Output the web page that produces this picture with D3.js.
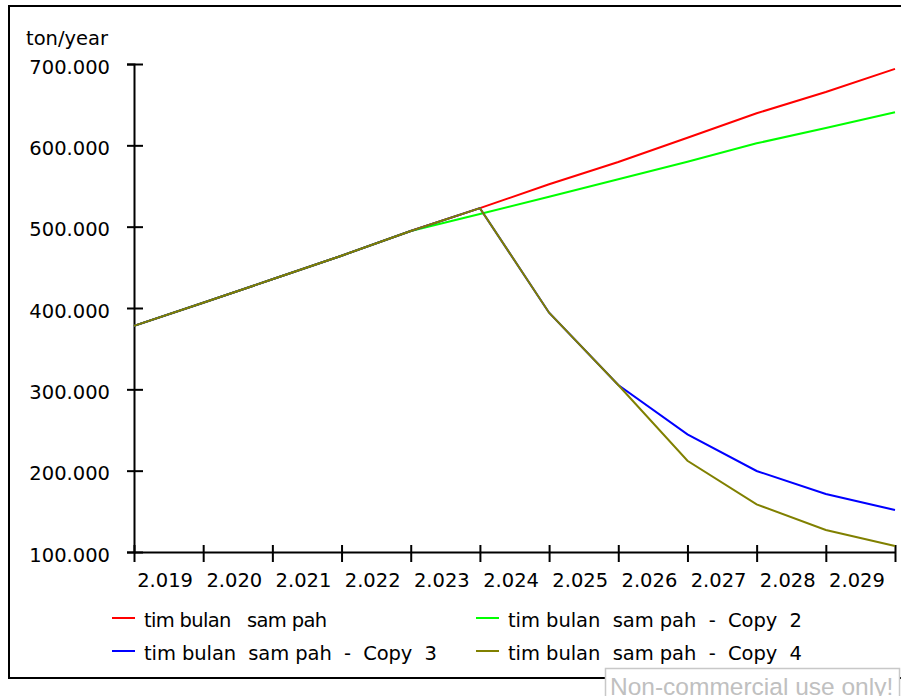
<!DOCTYPE html>
<html>
<head>
<meta charset="utf-8">
<script src="https://cdn.jsdelivr.net/npm/d3@7"></script>
<style>
  body { margin: 0; background: #fff; }
  svg { display: block; }
  text { font-family: "DejaVu Sans", Verdana, sans-serif; fill: #000; }
  .legend text { white-space: pre; }
</style>
</head>
<body>
<svg id="svg1" width="901" height="696"></svg>
<script>
// values (ton/year)
var years = [2019, 2020, 2021, 2022, 2023, 2024, 2025, 2026, 2027, 2028, 2029, 2030];
var timbulan = [378000, 406500, 435300, 464300, 494700, 522800, 552100, 579500, 609400, 639400, 665600, 694000];
var copy2 = [378000, 406500, 435300, 464300, 494700, 515600, 536900, 558200, 579900, 602500, 621300, 640600];
var copy3 = [378000, 406500, 435300, 464300, 494700, 522800, 394200, 305300, 244700, 199600, 171300, 151600];
var copy4 = [378000, 406500, 435300, 464300, 494700, 522800, 394200, 305300, 212200, 158600, 127000, 107400];

var yTicks = [100000, 200000, 300000, 400000, 500000, 600000, 700000];
var xLabelYears = [2019, 2020, 2021, 2022, 2023, 2024, 2025, 2026, 2027, 2028, 2029];

var seriesNames = ['tim bulan   sam pah', 'tim bulan  sam pah  -  Copy  2', 'tim bulan  sam pah  -  Copy  3', 'tim bulan  sam pah  -  Copy  4'];
var seriesColors = ['#ff0000', '#00ff00', '#0000ff', '#808000'];
var seriesValues = [timbulan, copy2, copy3, copy4];

var svg = d3.select('svg');

// frame round the whole chart
svg.append('rect')
    .attr('x', 9).attr('y', 6)
    .attr('width', 900).attr('height', 672)
    .attr('fill', 'none')
    .attr('stroke', '#000')
    .attr('stroke-width', 2);

var x = d3.scaleLinear().domain([2019, 2030]).range([134, 895]);
var y = d3.scaleLinear().domain([100000, 700000]).range([552, 64]);

var locale = d3.formatLocale({decimal: ',', thousands: '.', grouping: [3], currency: ['', '']});
var fmt = locale.format(',.0f');

// y axis
var yAxis = svg.append('g')
    .attr('transform', 'translate(' + x(2019) + ',0)')
    .call(d3.axisLeft(y).tickValues(yTicks).tickSizeOuter(0).tickSize(7).tickFormat(fmt));
yAxis.select('.domain').attr('stroke-width', 2);
yAxis.selectAll('.tick line').attr('x1', 9).attr('x2', -7).attr('stroke-width', 2);
yAxis.selectAll('.tick text')
    .attr('x', -24).attr('dy', 9)
    .style('font-size', '19.5px');

// x axis, the labels sit between the ticks
var xAxis = svg.append('g')
    .attr('transform', 'translate(0,' + y(100000) + ')')
    .call(d3.axisBottom(x).tickValues(years).tickSizeOuter(0).tickFormat(''));
xAxis.select('.domain').attr('stroke-width', 2);
xAxis.selectAll('.tick line').attr('y1', -7).attr('y2', 10).attr('stroke-width', 2);

svg.append('g').selectAll('text')
    .data(xLabelYears)
    .enter()
    .append('text')
    .attr('x', function (d) { return x(d + 0.45); })
    .attr('y', 586.5)
    .attr('text-anchor', 'middle')
    .style('font-size', '19.5px')
    .text(function (d) { return fmt(d); });

svg.append('text')
    .attr('x', 26).attr('y', 45)
    .style('font-size', '19.5px')
    .text('ton/year');

// lines
var line = d3.line()
    .x(function (d, i) { return x(years[i]); })
    .y(function (d) { return y(d); });

svg.append('g').selectAll('path')
    .data(seriesValues)
    .enter()
    .append('path')
    .attr('d', line)
    .attr('fill', 'none')
    .attr('stroke', function (d, i) { return seriesColors[i]; })
    .attr('stroke-width', 2);

// legend
var legX = [112, 476];
var legY = [618, 651];
var legLen = [183, 294, 293, 294];
var leg = svg.append('g').attr('class', 'legend')
    .selectAll('g')
    .data(seriesNames)
    .enter()
    .append('g')
    .attr('transform', function (d, i) { return 'translate(' + legX[i % 2] + ',' + legY[Math.floor(i / 2)] + ')'; });
leg.append('line')
    .attr('x1', 0).attr('x2', 23)
    .attr('stroke', function (d, i) { return seriesColors[i]; })
    .attr('stroke-width', 2);
leg.append('text')
    .attr('x', 32).attr('y', 8.7)
    .attr('textLength', function (d, i) { return legLen[i]; })
    .attr('lengthAdjust', 'spacing')
    .style('font-size', '19.5px')
    .text(function (d) { return d; });

// watermark box
svg.append('rect')
    .attr('x', 605.5).attr('y', 668.5)
    .attr('width', 294).attr('height', 40)
    .attr('fill', '#fff')
    .attr('stroke', '#c8c8c8')
    .attr('stroke-width', 1.5);
svg.append('text')
    .attr('x', 610).attr('y', 694.5)
    .style('font-family', '"Liberation Sans", Arial, sans-serif')
    .style('font-size', '24.5px')
    .style('fill', '#c0c0c0')
    .text('Non-commercial use only!');
</script>
</body>
</html>
